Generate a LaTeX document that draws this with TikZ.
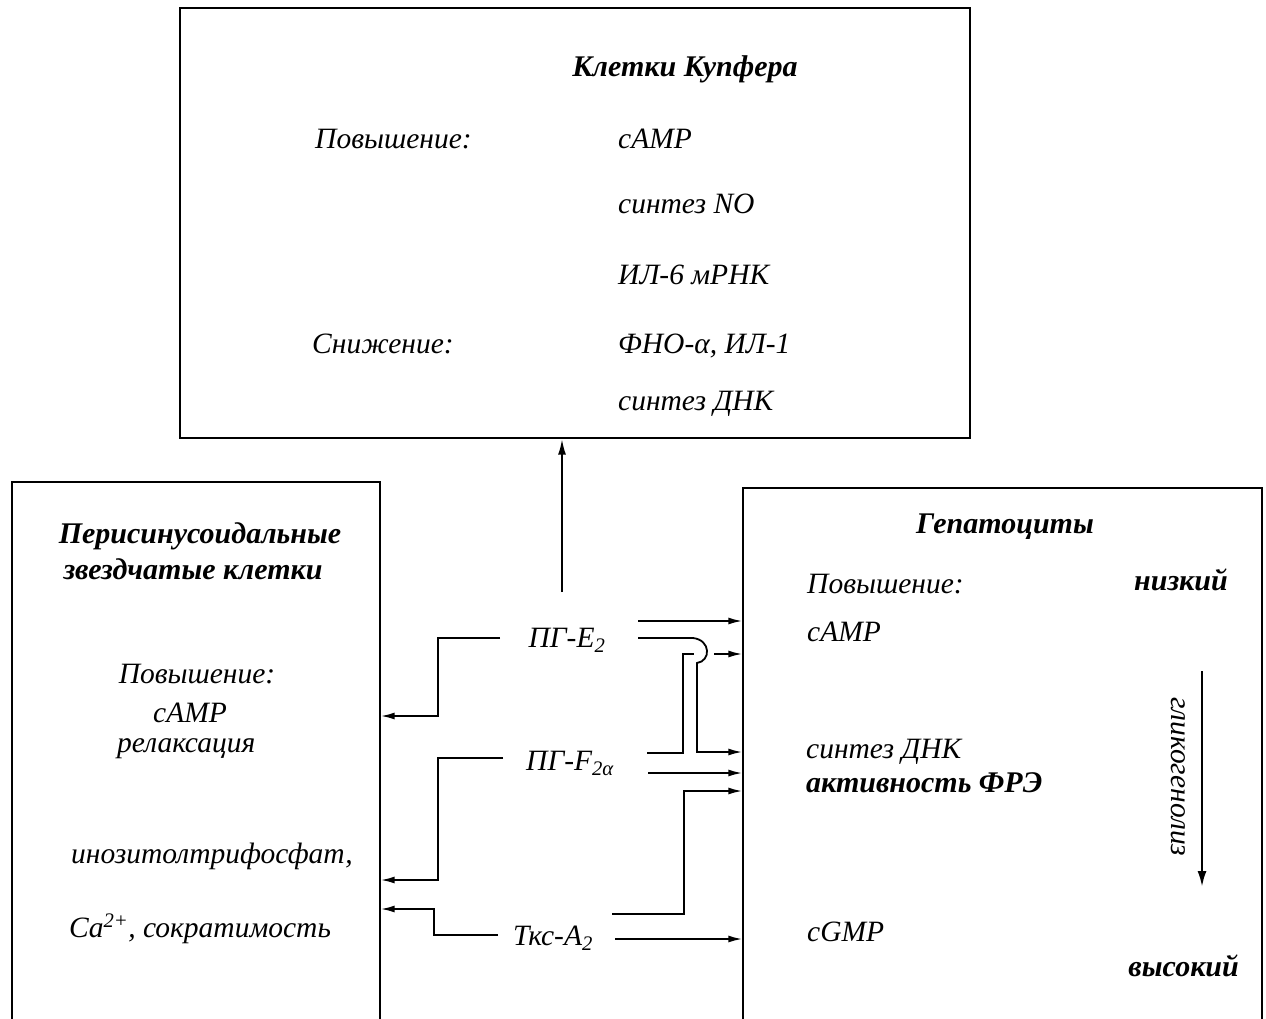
\documentclass[tikz,border=0pt]{standalone}
\usepackage{fontspec}
\setmainfont{Liberation Serif}
\usetikzlibrary{arrows.meta}
\begin{document}
\begin{tikzpicture}[x=1pt,y=-1pt,
  box/.style={draw, line width=1.4pt, inner sep=0pt},
  txt/.style={font=\fontsize{29.5}{34}\selectfont\itshape, inner sep=0pt},
  btxt/.style={font=\fontsize{30}{35}\selectfont\bfseries\itshape, inner sep=0pt},
  conn/.style={line width=1.8pt},
  arr/.style={conn, -{Latex[length=14pt,width=7pt]}},
]
\useasboundingbox (0,0) rectangle (1266,1019);
\clip (0,0) rectangle (1266,1019);

% boxes
\node[box, minimum width=790pt, minimum height=430pt] (kup) at (575,223) {};
\node[box, minimum width=368pt, minimum height=640pt] (per) at (196,802) {};
\node[box, minimum width=519pt, minimum height=640pt] (hep) at (1002.5,808) {};

% Kupffer texts
\node[btxt, anchor=base] (kt) at (685,77) {Клетки Купфера};
\node[txt, anchor=base west] (k1) at (315,149) {Повышение:};
\node[txt, anchor=base west] (k2) at (618,149) {cAMP};
\node[txt, anchor=base west] (k3) at (618,214) {синтез NO};
\node[txt, anchor=base west] (k4) at (618,284) {ИЛ-6 мРНК};
\node[txt, anchor=base west] (k5) at (312,353) {Снижение:};
\node[txt, anchor=base west] (k6) at (618,353) {ФНО-α, ИЛ-1};
\node[txt, anchor=base west] (k7) at (618,410) {синтез ДНК};

% perisinusoidal texts
\node[btxt, anchor=base] (pt1) at (200,543) {Перисинусоидальные};
\node[btxt, anchor=base] (pt2) at (193,579) {звездчатые клетки};
\node[txt, anchor=base] (p1) at (197,683) {Повышение:};
\node[txt, anchor=base west] (p2) at (153,722) {cAMP};
\node[txt, anchor=base west] (p3) at (117,752) {релаксация};
\node[txt, anchor=base] (p4) at (212,863) {инозитолтрифосфат,};
\node[txt, anchor=base] (p5) at (200,937) {Ca\textsuperscript{2+}, сократимость};

% hepatocyte texts
\node[btxt, anchor=base] (ht) at (1005,533) {Гепатоциты};
\node[txt, anchor=base west] (h1) at (807,593) {Повышение:};
\node[btxt, anchor=base east] (h2) at (1228,590) {низкий};
\node[txt, anchor=base west] (h3) at (807,641) {cAMP};
\node[txt, anchor=base west] (h4) at (806,758) {синтез ДНК};
\node[btxt, anchor=base west] (h5) at (806,792) {активность ФРЭ};
\node[txt, anchor=base west] (h6) at (807,941) {cGMP};
\node[btxt, anchor=base east] (h7) at (1239,976) {высокий};
\node[txt, rotate=-90] (h8) at (1178,777) {гликогенолиз};
\coordinate (g0) at (1202,671);
\coordinate (g1) at (1202,887);
\draw[line width=2.4pt, -{Latex[length=16pt,width=9pt]}] (g0) -- (g1);

% mediator labels
\node[txt] (e2) at (567,640) {ПГ-E\textsubscript{2}};
\node[txt] (f2) at (570,763) {ПГ-F\textsubscript{2α}};
\node[txt] (tx) at (553,938) {Ткс-A\textsubscript{2}};

% vertical arrow to Kupffer cells
\coordinate (k0) at (562,592);
\draw[line width=2.2pt, -{Latex[length=16pt,width=8pt]}] (k0) -- (k0 |- kup.south);

% connectors to the left box
\coordinate (e2L) at (500,638);
\coordinate (e2Ly) at (0,716);
\draw[arr] (e2L) -- (438,638) -- (438,716) -- (per.east |- e2Ly);
\coordinate (f2L) at (503,758);
\coordinate (f2Ly) at (0,880);
\draw[arr] (f2L) -- (438,758) -- (438,880) -- (per.east |- f2Ly);
\coordinate (txL) at (498,935);
\coordinate (txLy) at (0,909);
\draw[arr] (txL) -- (434,935) -- (434,909) -- (per.east |- txLy);

% connectors to the right box
\coordinate (e2a) at (638,621);
\draw[arr] (e2a) -- (hep.west |- e2a);
\coordinate (e2b) at (638,638);
\coordinate (e2by) at (0,752);
\draw[arr] (e2b) -- (693,638) .. controls (711,640) and (711,661) .. (697,663)
  -- (697,752) -- (hep.west |- e2by);
\coordinate (f2a) at (647,753);
\coordinate (f2ay) at (0,654);
\draw[conn] (f2a) -- (683,753) -- (683,654) -- (694,654);
\draw[arr] (714,654) -- (hep.west |- f2ay);
\coordinate (f2b) at (648,773);
\draw[arr] (f2b) -- (hep.west |- f2b);
\coordinate (txa) at (612,914);
\coordinate (txay) at (0,791);
\draw[arr] (txa) -- (684,914) -- (684,791) -- (hep.west |- txay);
\coordinate (txb) at (615,939);
\draw[arr] (txb) -- (hep.west |- txb);
\end{tikzpicture}
\end{document}
